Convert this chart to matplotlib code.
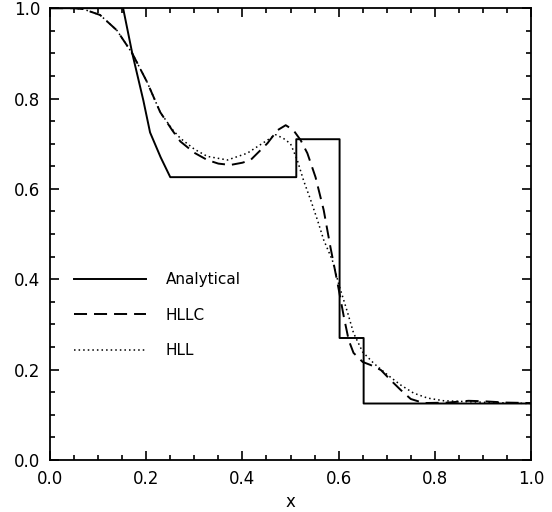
import matplotlib
matplotlib.use("Agg")
import matplotlib.pyplot as plt
from matplotlib.ticker import MultipleLocator

# Analytical solution
x_exact = [0.0, 0.152, 0.171, 0.194, 0.208, 0.23, 0.25, 0.512, 0.512, 0.602, 0.602, 0.652, 0.652, 1.0]
rho_exact = [1.0, 1.0, 0.90, 0.796, 0.725, 0.67, 0.626, 0.626, 0.71, 0.71, 0.27, 0.27, 0.125, 0.125]

# HLLC solver
x_hllc = [0.0, 0.05, 0.069, 0.104, 0.139, 0.171, 0.202, 0.229, 0.254, 0.271, 0.3, 0.327, 0.35,
          0.375, 0.4, 0.417, 0.452, 0.473, 0.49, 0.506, 0.521, 0.535, 0.552, 0.569, 0.583, 0.598,
          0.611, 0.621, 0.631, 0.65, 0.667, 0.688, 0.708, 0.729, 0.75, 0.777, 0.827, 0.87, 0.9,
          0.95, 1.0]
rho_hllc = [1.0, 1.0, 0.998, 0.985, 0.951, 0.90, 0.836, 0.77, 0.73, 0.705, 0.68, 0.664, 0.656,
            0.653, 0.658, 0.664, 0.701, 0.73, 0.741, 0.73, 0.708, 0.679, 0.626, 0.553, 0.471, 0.39,
            0.316, 0.265, 0.237, 0.217, 0.21, 0.199, 0.177, 0.155, 0.135, 0.126, 0.127, 0.131, 0.13,
            0.127, 0.126]

# HLL solver
x_hll = [0.0, 0.05, 0.069, 0.104, 0.139, 0.171, 0.202, 0.229, 0.254, 0.271, 0.3, 0.327, 0.369,
         0.41, 0.452, 0.469, 0.485, 0.5, 0.514, 0.527, 0.542, 0.556, 0.569, 0.587, 0.6, 0.619,
         0.631, 0.65, 0.673, 0.702, 0.729, 0.756, 0.785, 0.819, 0.87, 0.92, 1.0]
rho_hll = [1.0, 1.0, 0.998, 0.985, 0.951, 0.90, 0.836, 0.77, 0.732, 0.712, 0.688, 0.672, 0.664,
           0.679, 0.708, 0.72, 0.712, 0.70, 0.664, 0.619, 0.575, 0.531, 0.487, 0.442, 0.39, 0.325,
           0.281, 0.239, 0.214, 0.188, 0.166, 0.148, 0.137, 0.131, 0.129, 0.127, 0.125]


def plot_density():
  fig = plt.figure(figsize=(5.52, 5.12), dpi=100)
  ax = fig.add_axes([0.0906, 0.1016, 0.8714, 0.8824])

  ax.plot(x_exact, rho_exact, color="black", lw=1.4, label="Analytical", zorder=4)
  ax.plot(x_hllc, rho_hllc, color="black", lw=1.4, linestyle=(0, (6.7, 3.6)), label="HLLC", zorder=3)
  ax.plot(x_hll, rho_hll, color="black", lw=1.1, linestyle=(0, (1, 2)), label="HLL", zorder=2)

  ax.set_xlim(0, 1)
  ax.set_ylim(0, 1)
  ax.xaxis.set_major_locator(MultipleLocator(0.2))
  ax.xaxis.set_minor_locator(MultipleLocator(0.05))
  ax.yaxis.set_major_locator(MultipleLocator(0.2))
  ax.yaxis.set_minor_locator(MultipleLocator(0.05))
  ax.tick_params(which="both", direction="in", top=True, right=True, width=1.2, labelsize=12, pad=7)
  ax.tick_params(which="major", length=6.5)
  ax.tick_params(which="minor", length=3.6)
  for spine in ax.spines.values():
    spine.set_linewidth(1.3)

  ax.set_xlabel("x", fontsize=12, labelpad=4)

  # Legend without frame, sitting in the lower left part of the plot
  ax.legend(loc="upper left", bbox_to_anchor=(0.05, 0.416), frameon=False, fontsize=11,
            handlelength=4.7, handletextpad=1.3, labelspacing=1.35, borderpad=0, borderaxespad=0)

  fig.savefig("out.png", dpi=100)


def main():
  plot_density()


if __name__ == "__main__":
  main()
